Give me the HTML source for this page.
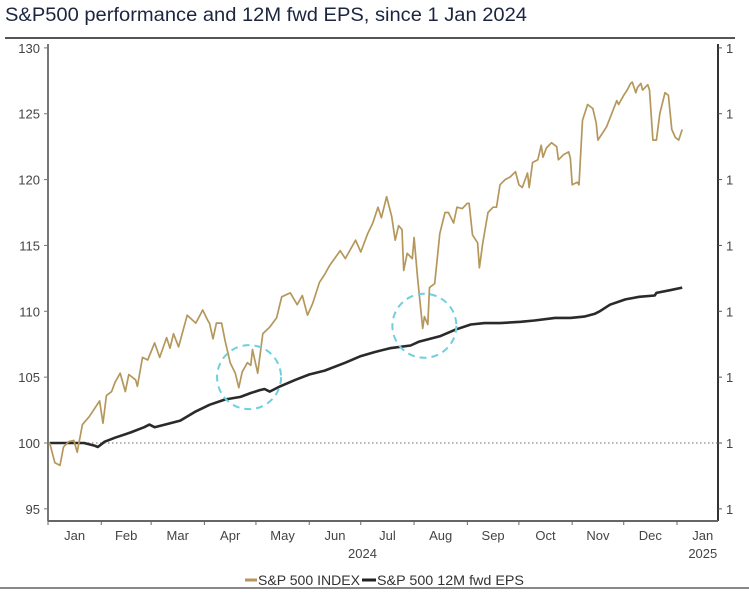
<!DOCTYPE html>
<html><head><meta charset="utf-8"><style>
body{margin:0;background:#fff;font-family:"Liberation Sans",sans-serif;}
svg text{font-family:"Liberation Sans",sans-serif;}
</style></head><body>
<svg id="chart" width="749" height="589" viewBox="0 0 749 589">
<text x="5" y="21" font-size="19.5" fill="#1b2540" textLength="522" lengthAdjust="spacingAndGlyphs">S&amp;P500 performance and 12M fwd EPS, since 1 Jan 2024</text>
<line x1="5" y1="38" x2="735" y2="38" stroke="#555" stroke-width="2"/>
<g id="axes"></g><g id="marks"></g>
</svg>
<script>
const idxDays=[1,4,7,9,12,15,17,20,24,27,30,32,34,37,39,42,45,47,51,52,55,58,62,65,69,71,73,76,81,86,90,93,94,96,98,101,103,106,109,111,113,116,118,119,122,125,129,133,136,141,145,148,151,154,158,161,164,170,173,179,182,186,189,192,194,197,200,202,204,206,207,209,212,213,215,218,219,221,222,225,228,231,233,236,238,241,244,245,247,250,251,253,256,259,261,263,266,269,272,274,276,279,280,282,285,287,288,290,293,296,297,300,303,304,305,308,309,311,314,317,319,320,323,325,328,331,332,335,337,339,340,342,343,345,346,349,350,352,354,356,359,361,363,365,367,369];
const idxVals=[100.0,98.5,98.3,99.7,100.1,100.2,99.3,101.4,102.0,102.6,103.2,101.5,103.6,103.9,104.6,105.3,103.9,105.2,104.8,104.3,106.5,106.3,107.6,106.5,108.0,107.2,108.3,107.3,109.7,109.1,110.1,109.3,109.1,107.9,109.1,109.1,107.8,106.1,105.3,104.2,105.4,106.1,105.9,107.1,105.3,108.3,108.8,109.5,111.1,111.4,110.5,111.2,109.7,110.6,112.2,112.8,113.5,114.6,114.0,115.4,114.5,115.9,116.7,117.9,117.1,118.7,117.2,115.4,116.5,116.2,113.1,114.4,114.0,115.6,112.6,108.7,109.6,109.0,111.8,112.1,115.9,117.5,117.5,116.7,117.9,117.8,118.2,118.2,115.8,115.2,113.3,115.2,117.5,117.9,117.9,119.6,120.0,120.2,120.6,119.6,119.4,120.5,119.4,121.3,121.5,122.6,121.7,122.4,122.8,122.5,121.5,121.9,122.1,121.6,119.6,119.8,119.6,124.5,125.7,125.4,124.3,123.0,123.6,124.0,125.0,126.0,125.7,126.4,126.8,127.3,127.4,126.6,127.0,127.3,126.8,127.2,126.8,123.0,123.0,125.0,126.6,126.4,123.8,123.2,123.0,123.8];
const epsDays=[1,15,21,27,29,33,39,48,56,59,62,68,77,86,94,103,112,118,123,126,129,135,144,152,161,173,182,190,199,211,216,228,237,246,254,263,275,283,295,304,312,318,321,327,336,344,353,354,362,369];
const epsVals=[100.0,100.0,100.0,99.8,99.7,100.1,100.4,100.8,101.2,101.4,101.2,101.4,101.7,102.4,102.9,103.3,103.5,103.8,104.0,104.1,103.9,104.3,104.8,105.2,105.5,106.1,106.6,106.9,107.2,107.4,107.7,108.1,108.6,109.0,109.1,109.1,109.2,109.3,109.5,109.5,109.6,109.8,110.0,110.5,110.9,111.1,111.2,111.4,111.6,111.8];
const yTicks=[95,100,105,110,115,120,125,130];
const monthStarts=[0,31,60,91,121,152,182,213,244,274,305,335,366];
const monthLabels=["Jan","Feb","Mar","Apr","May","Jun","Jul","Aug","Sep","Oct","Nov","Dec","Jan"];
const circleDays=[117,219];const circleVals=[105.0,108.9];

const X0=48,X1=718,PX=(677-48)/366;
const x=d=>X0+d*PX;
const y=v=>443-(v-100)*13.171;
const NS="http://www.w3.org/2000/svg";
const axes=document.getElementById('axes'),marks=document.getElementById('marks');
function mk(tag,at,parent,txt){const e=document.createElementNS(NS,tag);for(const k in at)e.setAttribute(k,at[k]);if(txt!==undefined)e.textContent=txt;parent.appendChild(e);return e;}
let e;
e=mk('line',{x1:X0,y1:44,x2:X0,y2:521,stroke:'#777','stroke-width':2},axes);


e=mk('line',{x1:X1,y1:44,x2:X1,y2:521,stroke:'#333','stroke-width':2},axes);


e=mk('line',{x1:X0,y1:521,x2:X1,y2:521,stroke:'#666','stroke-width':2},axes);


yTicks.forEach(t=>{
 e=mk('line',{x1:X0-4,y1:y(t),x2:X0,y2:y(t),stroke:'#777'},axes);
 
 
 e=mk('text',{x:X0-8,y:y(t)+5,'font-size':13,fill:'#444','text-anchor':'end'},axes,t);
 
 
 e=mk('line',{x1:X1,y1:y(t),x2:X1+4,y2:y(t),stroke:'#555'},axes);
 
 
 e=mk('text',{x:X1+8,y:y(t)+5,'font-size':13,fill:'#444'},axes,'1');
 
 
});
monthStarts.forEach((m,i)=>{
 e=mk('line',{x1:x(m),y1:521,x2:x(m),y2:525,stroke:'#666'},axes);
 
 
 const mid=i<12?(m+monthStarts[i+1])/2:m+15;
 e=mk('text',{x:x(mid),y:540,'font-size':13,fill:'#444','text-anchor':'middle'},axes,monthLabels[i]);
 
 
});
e=mk('text',{x:x(183),y:558,'font-size':13,fill:'#444','text-anchor':'middle'},axes,'2024');


e=mk('text',{x:x(381),y:558,'font-size':13,fill:'#444','text-anchor':'middle'},axes,'2025');


e=mk('line',{x1:X0,y1:y(100),x2:X1,y2:y(100),stroke:'#888','stroke-dasharray':'1.5 2.5','stroke-width':1.3},marks);


const pts=(ds,vs)=>ds.map((d,i)=>x(d).toFixed(1)+','+y(vs[i]).toFixed(1)).join(' ');
e=mk('polyline',{points:pts(epsDays,epsVals),fill:'none',stroke:'#2a2a2a','stroke-width':2.6,'stroke-linejoin':'round'},marks);


e=mk('polyline',{points:pts(idxDays,idxVals),fill:'none',stroke:'#b5975c','stroke-width':1.7,'stroke-linejoin':'round'},marks);


circleDays.forEach((d,i)=>{
 e=mk('circle',{cx:x(d),cy:y(circleVals[i]),r:32,fill:'none',stroke:'#6fcfdc','stroke-width':2,'stroke-dasharray':'7 5'},marks);
 
 
});
const svg=document.getElementById('chart');
e=mk('line',{x1:245,y1:580,x2:257,y2:580,stroke:'#b5975c','stroke-width':3},svg);


e=mk('text',{x:258,y:585,'font-size':13.5,fill:'#333',textLength:102,lengthAdjust:'spacingAndGlyphs'},svg,'S&P 500 INDEX');


e=mk('line',{x1:362,y1:580,x2:376,y2:580,stroke:'#222','stroke-width':3},svg);


e=mk('text',{x:377,y:585,'font-size':13.5,fill:'#333',textLength:147,lengthAdjust:'spacingAndGlyphs'},svg,'S&P 500 12M fwd EPS');


e=mk('line',{x1:0,y1:588,x2:749,y2:588,stroke:'#888','stroke-width':2},svg);


</script>
</body></html>
